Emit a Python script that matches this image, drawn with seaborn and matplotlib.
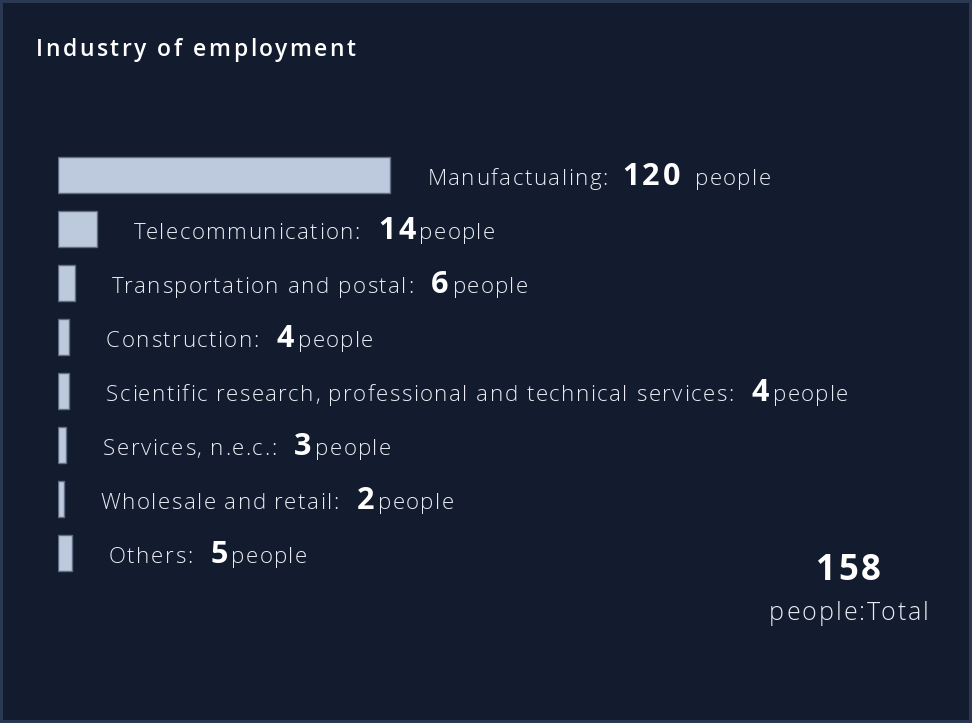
import matplotlib.pyplot as plt
from matplotlib.transforms import IdentityTransform
from matplotlib.font_manager import FontProperties
import seaborn as sns

# Data
industries = ['Manufactualing', 'Telecommunication', 'Transportation and postal',
              'Construction', 'Scientific research, professional and technical services',
              'Services, n.e.c.', 'Wholesale and retail', 'Others']
counts = [120, 14, 6, 4, 4, 3, 2, 5]
unit = 'people'
title = 'Industry of employment'
total_label = 'people:Total'

# Colours
bg = '#131c2e'
bar_fill = '#bdc9dc'
bar_edge = '#5f6e86'
text_col = '#e9edf3'

sns.set_theme(style='white')
plt.rcParams['font.family'] = ['Open Sans', 'DejaVu Sans']

W, H = 972, 723
fig = plt.figure(figsize=(W / 100, H / 100), dpi=100, facecolor=bg,
                 edgecolor='#2b3851', linewidth=3)
ax = fig.add_axes([58 / W, (H - 580) / H, 900 / W, 432 / H])
ax.set_facecolor(bg)

sns.barplot(x=counts, y=industries, orient='h', color=bar_fill, saturation=1,
            width=0.667, edgecolor=bar_edge, linewidth=1, ax=ax)
ax.set_xlim(0, 325)
ax.set_ylim(7.5, -0.5)
ax.axis('off')

fig.canvas.draw()
r = fig.canvas.get_renderer()
ident = IdentityTransform()


def ink_w(s, prop):
    if not s.strip():
        return 0.0
    return r.get_text_width_height_descent(s, prop, ismath=False)[0]


def tracked(x, y, s, size, weight, color, track, ha='left'):
    # matplotlib has no letter spacing, so place glyphs one by one
    prop = FontProperties(family=['Open Sans', 'DejaVu Sans'], size=size, weight=weight)
    total = ink_w(s, prop) + track * (len(s) - 1)
    if ha == 'center':
        x -= total / 2
    for i, c in enumerate(s):
        if c == ' ':
            continue
        xi = x + ink_w(s[:i + 1], prop) - ink_w(c, prop) + track * i
        fig.text(xi, y, c, transform=ident, fontproperties=prop, color=color,
                 va='baseline')
    return x + total


# Title
tracked(36, H - 56, title, 16.5, 'semibold', 'white', 2.5)

# Labels: "Name:  N people" after each bar
for i, (name, n) in enumerate(zip(industries, counts)):
    x0, y0 = ax.transData.transform((n, i))
    y = y0 - 10
    x = tracked(x0 + 37, y, name + ':', 16, 'light', text_col, 1.5)
    x = tracked(x + (14 if i == 0 else 18), y, str(n), 22, 'bold', 'white', 3)
    tracked(x + (15 if i == 0 else 4), y, unit, 16, 'light', text_col, 1.3)

# Total
tracked(848, H - 580, str(sum(counts)), 25, 'bold', 'white', 2.5, ha='center')
tracked(849, H - 620, total_label, 18, 'light', text_col, 2, ha='center')

fig.savefig('out.png', dpi=100, facecolor=bg)
